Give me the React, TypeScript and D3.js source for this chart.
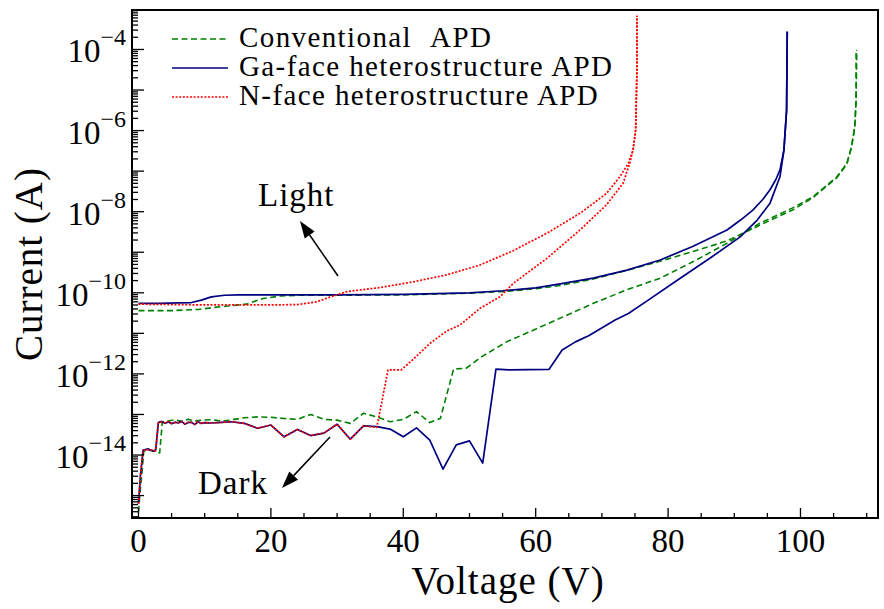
import React, { useEffect, useRef } from 'react';
import * as d3 from 'd3';

type Pt = [number, number];

// every point: [voltage (V), log10 of current (A)]
const convLight: Pt[] = [
  [0, -10.44], [5, -10.44], [9, -10.41], [11.5, -10.36], [13.8, -10.32], [16.3, -10.28],
  [18.8, -10.14], [21.4, -10.08], [24, -10.06], [30, -10.06], [40, -10.05], [50, -10.01],
  [55, -9.97], [60, -9.9], [63.7, -9.82], [68.7, -9.66], [73.7, -9.45], [78.8, -9.22],
  [83.8, -8.98], [88.9, -8.72], [93.9, -8.33], [98.9, -7.95], [101.9, -7.65], [105.5, -7.16],
  [107, -6.83], [107.7, -6.42], [108.2, -5.92], [108.4, -5.27], [108.5, -4.01],
];

const convDark: Pt[] = [
  [0, -15.4], [0.3, -14.8], [0.5, -14.5], [0.8, -13.9], [1.5, -13.88], [2.2, -13.9],
  [3.2, -13.95], [3.6, -13.18], [4.5, -13.16], [5.5, -13.13], [6.5, -13.17], [7.5, -13.12],
  [8.5, -13.16], [9.5, -13.14], [11, -13.13], [12.5, -13.16], [13.8, -13.14], [16, -13.08],
  [18, -13.06], [20, -13.07], [22, -13.1], [24, -13.12], [26, -13.0], [28, -13.12],
  [30, -13.14], [32, -13.22], [34, -12.97], [36, -13.06], [38, -13.18], [40, -13.12],
  [42, -12.93], [44, -13.2], [45.6, -13.1], [47.6, -11.88], [49.5, -11.86], [51.8, -11.58],
  [55.6, -11.21], [59.1, -10.96], [64.2, -10.59], [68.7, -10.26], [73.7, -9.93], [78.8, -9.64],
  [83.8, -9.23], [88.9, -8.78], [93.9, -8.28], [98.9, -7.9], [101.9, -7.63], [105.5, -7.14],
  [107, -6.81], [107.7, -6.4], [108.2, -5.9], [108.4, -5.25], [108.4, -4.01],
];

const gaLight: Pt[] = [
  [0, -10.26], [3, -10.26], [6, -10.25], [8, -10.24], [9.5, -10.18], [11, -10.1], [13, -10.06],
  [15, -10.05], [20, -10.05], [30, -10.05], [40, -10.04], [50, -10.0], [55, -9.95], [60, -9.88],
  [63.7, -9.78], [68.7, -9.64], [73.8, -9.44], [78.8, -9.19], [83.7, -8.86], [88.9, -8.45],
  [91, -8.2], [92.8, -7.96], [94.3, -7.7], [95.4, -7.46], [96.3, -7.2], [96.9, -6.97],
  [97.5, -6.48], [97.9, -5.5], [98, -3.56],
];

const gaDark: Pt[] = [
  [0, -15.2], [0.3, -14.5], [0.7, -13.88], [1.5, -13.85], [2.2, -13.9], [2.6, -13.88],
  [3.0, -13.2], [3.5, -13.17], [4, -13.22], [4.5, -13.18], [5, -13.23], [5.5, -13.19],
  [6, -13.21], [6.5, -13.17], [7, -13.24], [7.5, -13.2], [8, -13.19], [8.5, -13.25],
  [9, -13.18], [9.5, -13.22], [10, -13.2], [11, -13.21], [12, -13.2], [14, -13.18],
  [16, -13.22], [18, -13.34], [20, -13.26], [22, -13.55], [24, -13.37], [26, -13.52],
  [28, -13.46], [30, -13.24], [32, -13.61], [34, -13.28], [36, -13.3], [38, -13.36],
  [40, -13.55], [42, -13.33], [44, -13.63], [46, -14.35], [48, -13.75], [50, -13.65],
  [52, -14.2], [54, -11.88], [56, -11.9], [62, -11.89], [64, -11.41], [66, -11.21],
  [68, -11.06], [72, -10.67], [74, -10.51], [77, -10.18], [81.5, -9.68], [86.3, -9.15],
  [90.9, -8.62], [93.5, -8.2], [95.4, -7.79], [96.9, -7.14], [97.5, -6.48], [97.9, -5.5],
  [98, -3.56],
];

const nLight: Pt[] = [
  [0, -10.28], [5, -10.29], [10, -10.3], [15, -10.3], [20, -10.3], [24, -10.29], [27, -10.22],
  [29, -10.1], [31.5, -9.97], [36.5, -9.87], [41.5, -9.73], [46.5, -9.56], [51.5, -9.32],
  [56.5, -8.97], [61.7, -8.53], [66.7, -8.04], [70.7, -7.55], [72.7, -7.14], [74, -6.81],
  [74.7, -6.48], [75.1, -5.99], [75.3, -4.5], [75.3, -3.17],
];

const nDark: Pt[] = [
  [0, -15.2], [0.3, -14.5], [0.7, -13.88], [1.5, -13.87], [2.2, -13.88], [2.6, -13.9],
  [3.0, -13.2], [3.5, -13.18], [4, -13.21], [4.5, -13.17], [5, -13.22], [5.5, -13.2],
  [6, -13.2], [6.5, -13.18], [7, -13.23], [7.5, -13.19], [8, -13.2], [8.5, -13.24],
  [9, -13.17], [9.5, -13.23], [10, -13.2], [11, -13.21], [12, -13.2], [14, -13.18],
  [16, -13.22], [18, -13.34], [20, -13.26], [22, -13.55], [24, -13.37], [26, -13.52],
  [28, -13.46], [30, -13.24], [32, -13.61], [34, -13.28], [36, -13.32], [37.7, -11.9],
  [39.7, -11.9], [41.5, -11.64], [44, -11.25], [46.5, -10.95], [48.6, -10.79], [51.6, -10.38],
  [54.6, -10.1], [56.6, -9.77], [61.7, -9.15], [66.7, -8.45], [70.7, -7.83], [73.2, -7.3],
  [74.2, -6.81], [74.7, -6.48], [75.1, -5.99], [75.3, -4.5], [75.3, -3.17],
];

const legendLabels = [
  ['Conventional', 'APD'],
  ['Ga-face heterostructure APD'],
  ['N-face heterostructure APD'],
];
const xTickValues = [0, 20, 40, 60, 80, 100];
const yLabelExps = [-4, -6, -8, -10, -12, -14];

const FONT = '"Liberation Serif", "Times New Roman", serif';

export default function App() {
  const svgRef = useRef<SVGSVGElement>(null);

  useEffect(() => {
    if (!svgRef.current) return;
    const svg = d3.select(svgRef.current);
    svg.selectAll('*').remove();

    const plot = { left: 132, right: 878, top: 10, bottom: 518 };

    const x = d3.scaleLinear().domain([-0.98, 111.71]).range([plot.left, plot.right]);
    const y = d3.scaleLog().domain([2.8e-16, 9.4e-4]).range([plot.bottom, plot.top]);

    svg.append('rect').attr('width', 884).attr('height', 609).attr('fill', '#fff');

    svg.append('defs').append('clipPath').attr('id', 'plot-clip')
      .append('rect')
      .attr('x', plot.left).attr('y', plot.top)
      .attr('width', plot.right - plot.left).attr('height', plot.bottom - plot.top);

    const line = d3.line<Pt>()
      .x(d => x(d[0]))
      .y(d => y(Math.pow(10, d[1])));

    const styles = [
      { color: '#008000', dash: '6,3.5', width: 1.6 },
      { color: '#000080', dash: null, width: 1.7 },
      { color: '#ff0000', dash: '2,1.6', width: 1.7 },
    ];
    const groups = [[convLight, convDark], [gaLight, gaDark], [nLight, nDark]];

    const curves = svg.append('g').attr('clip-path', 'url(#plot-clip)');
    groups.forEach((pair, i) => {
      pair.forEach(data => {
        curves.append('path')
          .datum(data)
          .attr('fill', 'none')
          .attr('stroke', styles[i].color)
          .attr('stroke-width', styles[i].width)
          .attr('stroke-dasharray', styles[i].dash)
          .attr('stroke-linejoin', 'round')
          .attr('d', line);
      });
    });

    // ticks, pointing inward
    const axes = svg.append('g').attr('stroke', '#000');
    d3.range(0, 111, 5).forEach(v => {
      const major = v % 20 === 0;
      axes.append('line')
        .attr('x1', x(v)).attr('x2', x(v))
        .attr('y1', plot.bottom).attr('y2', plot.bottom - (major ? 10 : 5))
        .attr('stroke-width', 1.3);
    });
    d3.range(-16, -2).forEach(e => {
      for (let k = 1; k <= 9; k++) {
        const v = k * Math.pow(10, e);
        const [lo, hi] = y.domain();
        if (v < lo || v > hi) continue;
        axes.append('line')
          .attr('x1', plot.left).attr('x2', plot.left + (k === 1 ? 12 : 6))
          .attr('y1', y(v)).attr('y2', y(v))
          .attr('stroke-width', 1.3);
      }
    });

    svg.append('rect')
      .attr('x', plot.left).attr('y', plot.top)
      .attr('width', plot.right - plot.left).attr('height', plot.bottom - plot.top)
      .attr('fill', 'none').attr('stroke', '#000').attr('stroke-width', 2);

    const txt = svg.append('g').attr('font-family', FONT).attr('fill', '#000');

    xTickValues.forEach(v => {
      txt.append('text')
        .attr('x', x(v)).attr('y', 552)
        .attr('text-anchor', 'middle')
        .attr('font-size', 33)
        .text(v);
    });

    yLabelExps.forEach(e => {
      const t = txt.append('text')
        .attr('x', 126).attr('y', y(Math.pow(10, e)) + 13)
        .attr('text-anchor', 'end')
        .attr('font-size', 33);
      t.append('tspan').text('10');
      t.append('tspan').attr('dy', -17).attr('font-size', 24).text('\u2212' + Math.abs(e));
    });

    txt.append('text')
      .attr('x', 508).attr('y', 594)
      .attr('text-anchor', 'middle')
      .attr('font-size', 39)
      .attr('letter-spacing', 1)
      .text('Voltage (V)');

    txt.append('text')
      .attr('transform', `translate(42, ${(plot.top + plot.bottom) / 2}) rotate(-90)`)
      .attr('text-anchor', 'middle')
      .attr('font-size', 39)
      .attr('letter-spacing', 1)
      .text('Current (A)');

    // legend
    const legendRows = [39, 68, 97];
    legendLabels.forEach((parts, i) => {
      svg.append('line')
        .attr('x1', 172).attr('x2', 228)
        .attr('y1', legendRows[i]).attr('y2', legendRows[i])
        .attr('stroke', styles[i].color)
        .attr('stroke-width', styles[i].width)
        .attr('stroke-dasharray', styles[i].dash);
      const t = txt.append('text')
        .attr('x', 239).attr('y', legendRows[i] + 8)
        .attr('font-size', 29)
        .attr('letter-spacing', 1.4);
      t.append('tspan').text(parts[0]);
      if (parts[1]) t.append('tspan').attr('dx', 18).text(parts[1]);
    });

    // annotations
    const arrow = (x1: number, y1: number, x2: number, y2: number) => {
      const ang = Math.atan2(y2 - y1, x2 - x1);
      const len = 17, hw = 6;
      const bx = x2 - len * Math.cos(ang), by = y2 - len * Math.sin(ang);
      svg.append('line')
        .attr('x1', x1).attr('y1', y1).attr('x2', bx).attr('y2', by)
        .attr('stroke', '#000').attr('stroke-width', 1.5);
      const px = -Math.sin(ang) * hw, py = Math.cos(ang) * hw;
      svg.append('polygon')
        .attr('points', `${x2},${y2} ${bx + px},${by + py} ${bx - px},${by - py}`)
        .attr('fill', '#000');
    };
    arrow(338, 276, 300, 221);
    arrow(330, 437, 282, 488);

    txt.append('text').attr('x', 258).attr('y', 206).attr('font-size', 33).attr('letter-spacing', 1).text('Light');
    txt.append('text').attr('x', 198).attr('y', 494).attr('font-size', 33).attr('letter-spacing', 1).text('Dark');
  }, []);

  return (
    <svg
      ref={svgRef}
      width={884}
      height={609}
      style={{ position: 'absolute', left: 0, top: 0 }}
    />
  );
}
